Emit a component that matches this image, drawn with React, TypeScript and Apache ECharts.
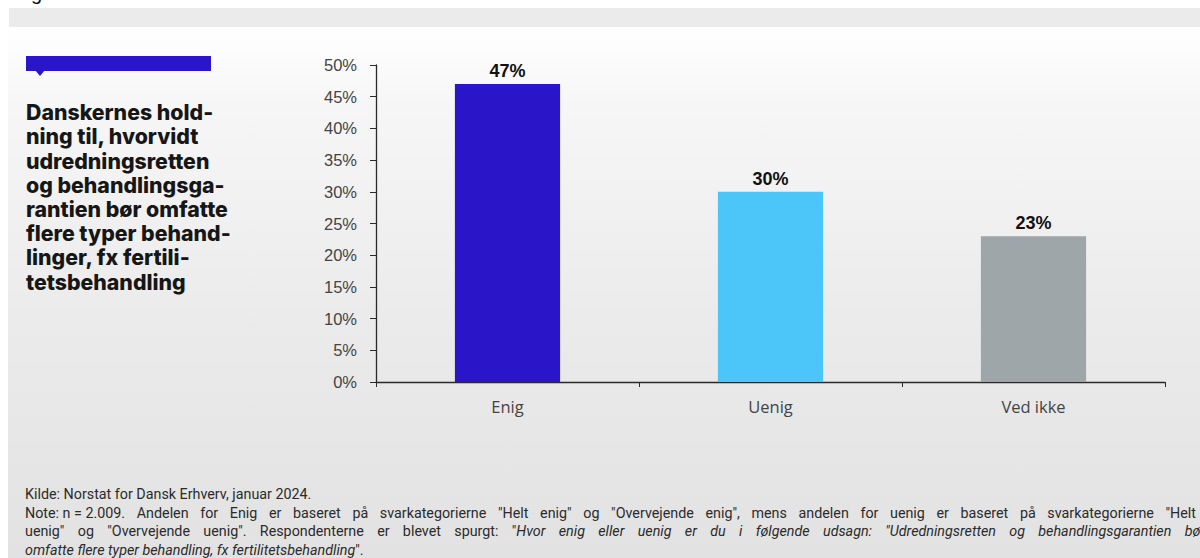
import React, { useEffect, useRef } from "react";
import * as echarts from "echarts";

const categories = ["Enig", "Uenig", "Ved ikke"];
const values = [47, 30, 23];
const barColors = ["#2a16c8", "#4cc6f8", "#9ea6a9"];
const yMax = 50;
const yInterval = 5;

const titleLines = [
  "Danskernes hold-",
  "ning til, hvorvidt",
  "udredningsretten",
  "og behandlingsga-",
  "rantien bør omfatte",
  "flere typer behand-",
  "linger, fx fertili-",
  "tetsbehandling",
];

const sourceLine = "Kilde: Norstat for Dansk Erhverv, januar 2024.";
// "~" marks a non-breaking (non-stretching) space
const noteLine1 =
  'Note:~n~=~2.009. Andelen for Enig er baseret på svarkategorierne "Helt enig" og "Overvejende enig", mens andelen for uenig er baseret på svarkategorierne "Helt';
const noteLine2Normal = 'uenig" og "Overvejende uenig". Respondenterne er blevet spurgt: "';
const noteLine2Italic = 'Hvor enig eller uenig er du i følgende udsagn: "Udredningsretten og behandlingsgarantien bør';
const noteLine3Italic = "omfatte flere typer behandling, fx fertilitetsbehandling";
const noteLine3Normal = '".';

const FOOT_FONT = "Roboto";
const FOOT_SIZE = 14.3;
const FOOT_COLOR = "#2b2b2b";

type Part = { t: string; italic: boolean };
type Group = Part[];

function measure(ctx: CanvasRenderingContext2D, p: Part): number {
  ctx.font = `${p.italic ? "italic " : ""}${FOOT_SIZE}px ${FOOT_FONT}`;
  return ctx.measureText(p.t).width;
}

function toGroups(s: string, italic: boolean): Group[] {
  return s
    .split(" ")
    .filter((t) => t.length > 0)
    .map((t) => [{ t: t.replace(/~/g, " "), italic }]);
}

function justify(groups: Group[], x0: number, x1: number, y: number, ctx: CanvasRenderingContext2D) {
  const widths = groups.map((g) => g.reduce((a, p) => a + measure(ctx, p), 0));
  const total = widths.reduce((a, b) => a + b, 0);
  const gap = groups.length > 1 ? (x1 - x0 - total) / (groups.length - 1) : 0;
  const els: any[] = [];
  let x = x0;
  groups.forEach((g, gi) => {
    let px = x;
    g.forEach((p) => {
      els.push({
        type: "text",
        z: 5,
        x: px,
        y,
        style: {
          text: p.t,
          fill: FOOT_COLOR,
          fontSize: FOOT_SIZE,
          fontFamily: FOOT_FONT,
          fontStyle: p.italic ? "italic" : "normal",
          verticalAlign: "middle",
        },
      });
      px += measure(ctx, p);
    });
    x += widths[gi] + gap;
  });
  return els;
}

export default function App() {
  const ref = useRef<HTMLDivElement>(null);

  useEffect(() => {
    if (!ref.current) return;
    const chart = echarts.init(ref.current, null, { renderer: "svg" });
    const ctx = document.createElement("canvas").getContext("2d") as CanvasRenderingContext2D;
    const x0 = 25;

    const line2Els = justify(toGroups(noteLine1, false), x0, 1196, 513, ctx);

    const n3 = toGroups(noteLine2Normal, false);
    const i3 = toGroups(noteLine2Italic, true);
    const openQuote = n3.pop() as Group; // the lone '"' glued to the first italic word
    const line3Groups: Group[] = [...n3, [...openQuote, ...i3[0]], ...i3.slice(1)];
    const line3Els = justify(line3Groups, x0, 1205, 531, ctx);

    chart.setOption({
      animation: false,
      backgroundColor: "#ffffff",
      grid: { left: 376, right: 35, top: 65, bottom: 176, containLabel: false },
      xAxis: {
        type: "category",
        data: categories,
        boundaryGap: true,
        axisLine: { show: true, lineStyle: { color: "#2a2a2a", width: 1.3 } },
        axisTick: { show: true, alignWithLabel: false, length: 5, lineStyle: { color: "#2a2a2a" } },
        axisLabel: {
          color: "#444",
          fontSize: 16.5,
          fontFamily: "'Open Sans', sans-serif",
          margin: 16,
        },
      },
      yAxis: {
        type: "value",
        min: 0,
        max: yMax,
        interval: yInterval,
        axisLine: { show: true, lineStyle: { color: "#2a2a2a", width: 1.3 } },
        axisTick: { show: true, length: 6, lineStyle: { color: "#2a2a2a" } },
        splitLine: { show: false },
        axisLabel: {
          formatter: "{value}%",
          color: "#444",
          fontSize: 16.5,
          fontFamily: "'Liberation Sans', Arial, sans-serif",
          margin: 19,
        },
      },
      series: [
        {
          type: "bar",
          barWidth: "40%",
          data: values.map((v, i) => ({ value: v, itemStyle: { color: barColors[i] } })),
          label: {
            show: true,
            position: "top",
            distance: 4,
            formatter: "{c}%",
            color: "#111",
            fontWeight: "bold",
            fontSize: 18,
            fontFamily: "'Liberation Sans', Arial, sans-serif",
          },
          z: 3,
        },
      ],
      graphic: [
        {
          type: "rect",
          z: -100,
          silent: true,
          shape: { x: 9, y: 8, width: 1191, height: 19 },
          style: { fill: "#ebebeb" },
        },
        {
          type: "rect",
          z: -100,
          silent: true,
          shape: { x: 8, y: 27, width: 1192, height: 531 },
          style: {
            fill: new echarts.graphic.LinearGradient(0, 0, 0, 1, [
              { offset: 0, color: "#ffffff" },
              { offset: 0.15, color: "#f6f6f6" },
              { offset: 0.55, color: "#ebebeb" },
              { offset: 1, color: "#e2e2e2" },
            ]),
          },
        },
        {
          type: "text",
          z: 5,
          x: 31,
          y: -17,
          style: {
            text: "g",
            fill: "#111",
            fontSize: 20,
            fontFamily: "'Liberation Sans', Arial, sans-serif",
          },
        },
        {
          type: "rect",
          z: 5,
          shape: { x: 26, y: 56, width: 185, height: 15 },
          style: { fill: "#2a16c8" },
        },
        {
          type: "polygon",
          z: 5,
          shape: { points: [[35, 70], [45, 70], [40, 76]] },
          style: { fill: "#2a16c8" },
        },
        {
          type: "text",
          z: 5,
          x: 26,
          y: 100,
          style: {
            text: titleLines.join("\n"),
            fill: "#161616",
            fontSize: 21.3,
            fontWeight: 800,
            lineHeight: 24.2,
            fontFamily: "Inter, Roboto, sans-serif",
          },
        },
        {
          type: "text",
          z: 5,
          x: x0,
          y: 494,
          style: {
            text: sourceLine,
            fill: FOOT_COLOR,
            fontSize: FOOT_SIZE,
            fontFamily: FOOT_FONT,
            verticalAlign: "middle",
          },
        },
        ...line2Els,
        ...line3Els,
        {
          type: "text",
          z: 5,
          x: x0,
          y: 550,
          style: {
            text: "{i|" + noteLine3Italic + "}{n|" + noteLine3Normal + "}",
            verticalAlign: "middle",
            rich: {
              n: { fill: FOOT_COLOR, fontSize: FOOT_SIZE, fontFamily: FOOT_FONT },
              i: { fill: FOOT_COLOR, fontSize: FOOT_SIZE, fontFamily: FOOT_FONT, fontStyle: "italic" },
            },
          },
        },
      ],
    });
    return () => chart.dispose();
  }, []);

  return (
    <div
      ref={ref}
      style={{ position: "absolute", left: 0, top: 0, width: 1200, height: 558 }}
    />
  );
}
